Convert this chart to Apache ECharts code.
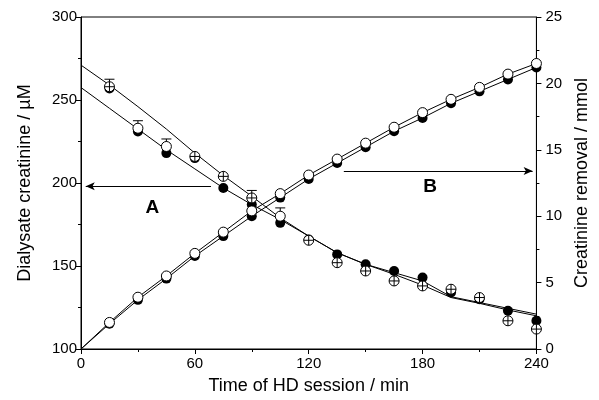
<!DOCTYPE html>
<html>
<head>
<meta charset="utf-8">
<script src="https://cdn.jsdelivr.net/npm/echarts@6/dist/echarts.min.js"></script>
<style>html,body{margin:0;padding:0;background:#fff}#c{width:599px;height:400px}</style>
</head>
<body>
<div id="c"></div>
<script>
// Measurement times (min)
const times = [15, 30, 45, 60, 75, 90, 105, 120, 135, 150, 165, 180, 195, 210, 225, 240];
// Fit-curve sampling times (min)
const fitTimes = [0, 15, 30, 45, 60, 75, 90, 105, 120, 135, 150, 165, 180, 195, 210, 225, 240];

// A: dialysate creatinine (µM), left axis
const aFilled = [257, 231, 218, 215, 197, 187, 176, 166, 157, 151, 147, 143, 134, 130, 123, 117];
const aOpen   = [258, 233, 222, 216, 204, 191, 180, 165.5, 152, 147, 141, 138, 136, 131, 117, 112];
const aOpenCrossed = [true, false, false, true, true, true, false, true, true, true, true, true, true, true, true, true];
const aOpenErr = [3, 4.5, 4, null, null, 2.5, 5, null, null, null, null, null, null, null, null, null];
const aFitOpen   = [271, 259, 246, 232.5, 218, 204.5, 192, 179, 168, 158, 151, 145, 138.5, 131, 127.5, 123.5, 120];
const aFitFilled = [257.5, 245, 232.5, 220, 208.5, 197, 187, 178, 168, 158, 151, 146, 141, 131.5, 128, 124.5, 121];

// B: creatinine removal (mmol), right axis
const bFilled = [1.9, 3.7, 5.3, 7.0, 8.5, 10.0, 11.4, 12.8, 14.0, 15.2, 16.4, 17.4, 18.5, 19.4, 20.3, 21.2];
const bOpen   = [2.0, 3.9, 5.5, 7.2, 8.8, 10.4, 11.7, 13.1, 14.3, 15.5, 16.7, 17.8, 18.8, 19.7, 20.7, 21.5];
const bFitOpen   = [0, 2.0, 3.9, 5.5, 7.2, 8.8, 10.4, 11.7, 13.1, 14.3, 15.5, 16.7, 17.8, 18.8, 19.7, 20.7, 21.5];
const bFitFilled = [0, 1.9, 3.7, 5.3, 7.0, 8.5, 10.0, 11.4, 12.8, 14.0, 15.2, 16.4, 17.4, 18.5, 19.4, 20.3, 21.2];

// Axis ticks
const xTicks = [0, 60, 120, 180, 240];
const leftTicks = [100, 150, 200, 250, 300];
const rightTicks = [0, 5, 10, 15, 20, 25];

// Annotation arrows (data coordinates)
const arrowA = { from: [68.5, 198], to: [2.5, 198], label: 'A' };
const arrowB = { from: [138.5, 13.4], to: [238, 13.4], label: 'B' };

const FONT = '"Liberation Sans", Arial, Helvetica, sans-serif';
const crossPath = 'path://M0,-10A10,10,0,1,1,0,10A10,10,0,1,1,0,-10ZM-10,0L10,0M0,-10L0,10';

const zip = (xs, ys) => xs.map((x, i) => [x, ys[i]]);

const chart = echarts.init(document.getElementById('c'), null, { renderer: 'canvas' });

const axisCommon = {
  axisLine: { show: true, lineStyle: { color: '#000', width: 1 } },
  axisTick: { show: true, inside: false, length: 5, lineStyle: { color: '#000', width: 1 } },
  minorTick: { show: true, splitNumber: 2, length: 3, lineStyle: { color: '#000', width: 1 } },
  splitLine: { show: false },
  axisLabel: { color: '#000', fontSize: 15, fontFamily: FONT },
  nameTextStyle: { color: '#000', fontSize: 18, fontFamily: FONT }
};

const lineSeries = (name, data, yAxisIndex, extra) => Object.assign({
  name, type: 'line', yAxisIndex, data, symbol: 'none', smooth: false,
  lineStyle: { color: '#000', width: 1 }, z: 2, silent: true
}, extra || {});

const option = {
  animation: false,
  backgroundColor: '#fff',
  grid: { left: 81, right: 55, top: 17, bottom: 50, show: true, borderColor: '#000', borderWidth: 1, backgroundColor: 'transparent' },
  xAxis: Object.assign({}, axisCommon, {
    type: 'value', min: xTicks[0], max: xTicks[xTicks.length - 1], interval: 60,
    name: 'Time of HD session / min', nameLocation: 'middle', nameGap: 28,
    axisLabel: Object.assign({}, axisCommon.axisLabel, { margin: 7 })
  }),
  yAxis: [
    Object.assign({}, axisCommon, {
      type: 'value', position: 'left', min: leftTicks[0], max: leftTicks[leftTicks.length - 1], interval: 50,
      name: 'Dialysate creatinine / µM', nameLocation: 'middle', nameGap: 47, nameRotate: 90,
      axisLabel: Object.assign({}, axisCommon.axisLabel, { margin: 4 })
    }),
    Object.assign({}, axisCommon, {
      type: 'value', position: 'right', min: rightTicks[0], max: rightTicks[rightTicks.length - 1], interval: 5,
      name: 'Creatinine removal / mmol', nameLocation: 'middle', nameGap: 30, nameRotate: 90,
      axisLabel: Object.assign({}, axisCommon.axisLabel, { margin: 9 })
    })
  ],
  series: [
    lineSeries('A fit open', zip(fitTimes, aFitOpen), 0, {
      markLine: {
        silent: true, symbol: ['none', 'arrow'], symbolSize: [6, 9],
        lineStyle: { color: '#000', width: 1, type: 'solid' },
        label: { show: false },
        data: [[{ coord: arrowA.from }, { coord: arrowA.to }]]
      }
    }),
    lineSeries('A fit filled', zip(fitTimes, aFitFilled), 0),
    lineSeries('B fit open', zip(fitTimes, bFitOpen), 1, {
      markLine: {
        silent: true, symbol: ['none', 'arrow'], symbolSize: [6, 9],
        lineStyle: { color: '#000', width: 1, type: 'solid' },
        label: { show: false },
        data: [[{ coord: arrowB.from }, { coord: arrowB.to }]]
      }
    }),
    lineSeries('B fit filled', zip(fitTimes, bFitFilled), 1),
    {
      name: 'A filled', type: 'scatter', yAxisIndex: 0, data: zip(times, aFilled),
      symbol: 'circle', symbolSize: 10, itemStyle: { color: '#000', opacity: 1 }, z: 3
    },
    {
      name: 'B filled', type: 'scatter', yAxisIndex: 1, data: zip(times, bFilled),
      symbol: 'circle', symbolSize: 10, itemStyle: { color: '#000', opacity: 1 }, z: 3
    },
    {
      name: 'A error', type: 'custom', yAxisIndex: 0, z: 4,
      data: times.map((t, i) => [t, aOpen[i], aOpenErr[i]]).filter(d => d[2] != null),
      renderItem: function (params, api) {
        const x = api.value(0), y = api.value(1), e = api.value(2);
        const p0 = api.coord([x, y]);
        const p1 = api.coord([x, y + e]);
        const top = Math.min(p1[1], p0[1] - 7.5);
        return {
          type: 'group',
          children: [
            { type: 'line', shape: { x1: p0[0], y1: p0[1], x2: p0[0], y2: top }, style: { stroke: '#000', lineWidth: 1 } },
            { type: 'line', shape: { x1: p0[0] - 5, y1: top, x2: p0[0] + 5, y2: top }, style: { stroke: '#000', lineWidth: 1 } }
          ]
        };
      }
    },
    {
      name: 'A open', type: 'scatter', yAxisIndex: 0,
      data: times.map((t, i) => ({ value: [t, aOpen[i]], symbol: aOpenCrossed[i] ? crossPath : 'circle' })),
      symbolSize: 10, symbolKeepAspect: true,
      itemStyle: { color: '#fff', borderColor: '#000', borderWidth: 1, opacity: 1 }, z: 5
    },
    {
      name: 'B open', type: 'scatter', yAxisIndex: 1, data: zip(times, bOpen),
      symbol: 'circle', symbolSize: 10,
      itemStyle: { color: '#fff', borderColor: '#000', borderWidth: 1, opacity: 1 }, z: 5
    }
  ],
  graphic: []
};

chart.setOption(option);

// Place the A/B letters relative to their arrows, using the chart's own coordinate conversion
const pa = chart.convertToPixel({ xAxisIndex: 0, yAxisIndex: 0 }, [(arrowA.from[0] + arrowA.to[0]) / 2, arrowA.from[1]]);
const pb = chart.convertToPixel({ xAxisIndex: 0, yAxisIndex: 1 }, [(arrowB.from[0] + arrowB.to[0]) / 2, arrowB.from[1]]);
chart.setOption({
  graphic: [
    { type: 'text', x: pa[0] + 4, y: pa[1] + 21, style: { text: arrowA.label, font: 'bold 19px ' + FONT, fill: '#000', align: 'center', verticalAlign: 'middle' } },
    { type: 'text', x: pb[0] - 8, y: pb[1] + 16, style: { text: arrowB.label, font: 'bold 19px ' + FONT, fill: '#000', align: 'center', verticalAlign: 'middle' } }
  ]
});
</script>
</body>
</html>
